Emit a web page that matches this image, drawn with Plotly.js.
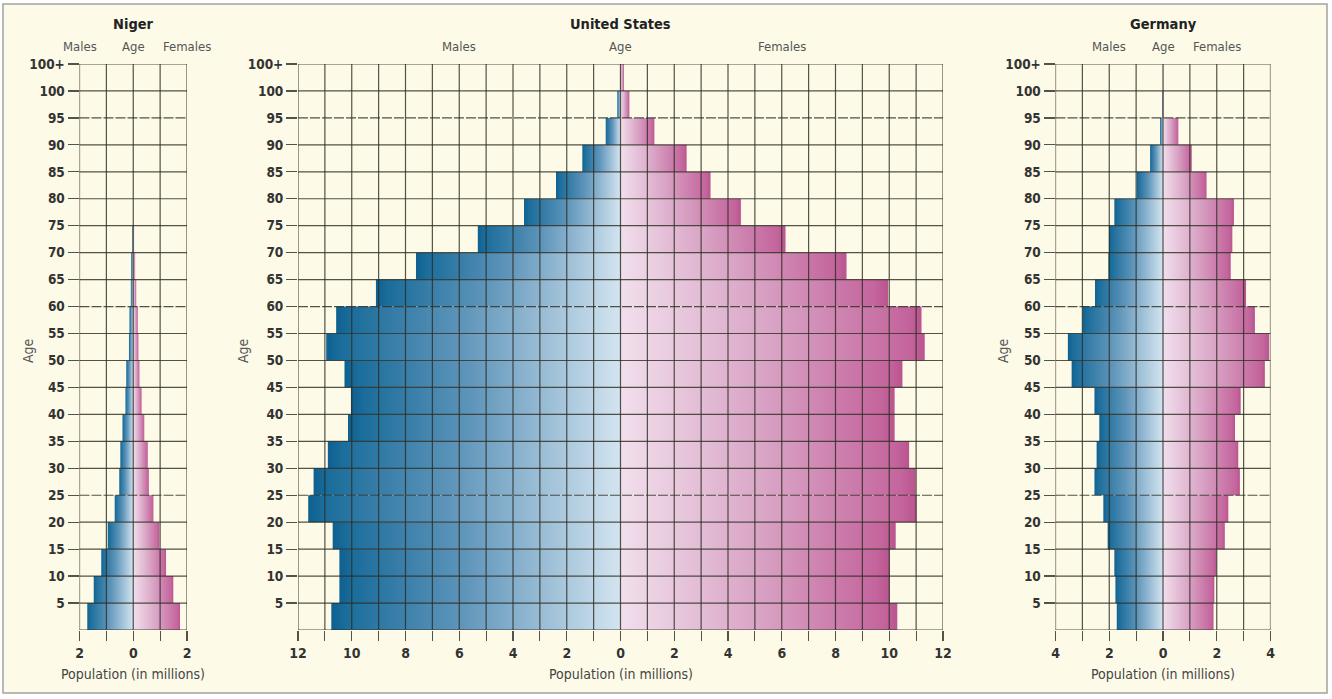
<!DOCTYPE html>
<html><head><meta charset="utf-8">
<script src="https://cdn.plot.ly/plotly-3.0.1.min.js"></script>
<style>html,body{margin:0;padding:0;background:#fff}#chart{width:1332px;height:699px}</style>
</head><body><div id="chart"></div>
<script>
// ---- data (millions), age groups 0-4 ... 100+ ----
const ageStarts = [0,5,10,15,20,25,30,35,40,45,50,55,60,65,70,75,80,85,90,95,100];
const ageTickVals = [5,10,15,20,25,30,35,40,45,50,55,60,65,70,75,80,85,90,95,100,105];
const ageTickText = ['5','10','15','20','25','30','35','40','45','50','55','60','65','70','75','80','85','90','95','100','100+'];

const nigerMales     = [1.71,1.47,1.19,0.95,0.69,0.52,0.48,0.40,0.29,0.26,0.16,0.14,0.09,0.08,0.04,0,0,0,0,0,0];
const nigerFemales   = [1.74,1.49,1.22,0.97,0.75,0.58,0.54,0.41,0.31,0.23,0.19,0.17,0.11,0.07,0.03,0,0,0,0,0,0];
const usMales        = [10.76,10.46,10.46,10.71,11.62,11.42,10.89,10.14,10.03,10.27,10.95,10.58,9.10,7.61,5.31,3.59,2.40,1.42,0.55,0.12,0.02];
const usFemales      = [10.30,10.02,10.02,10.24,11.01,10.98,10.74,10.20,10.20,10.49,11.32,11.20,9.96,8.41,6.14,4.48,3.35,2.46,1.26,0.33,0.13];
const germanyMales   = [1.72,1.77,1.81,2.06,2.22,2.55,2.47,2.37,2.55,3.40,3.54,2.99,2.53,2.03,2.01,1.81,0.98,0.48,0.11,0.02,0];
const germanyFemales = [1.88,1.91,1.99,2.30,2.43,2.86,2.80,2.68,2.89,3.79,3.95,3.42,3.09,2.52,2.58,2.64,1.62,1.07,0.57,0.03,0.01];

const countryNames = ['Niger','United States','Germany'];
const axisMax = [2, 12, 4];
const sideLabelsAt = [2, 6, 2];

// ---- style ----
const W = 1332, H = 699;
const FONT = "'Liberation Sans Narrow','DejaVu Sans Condensed','Arial Narrow',sans-serif";
const gridColor = 'rgba(45,45,35,0.82)';
const cream = '#fdfbe8';
const maleScale = [[0,'#0d6090'],[0.05,'#1b6d9b'],[0.45,'#5f95ba'],[1,'#d3e4f0']];
const femaleScale = [[0,'#f1dfec'],[0.5,'#d9a4c5'],[0.95,'#c4659d'],[1,'#b9548f']];

const xDomains = [[79.5/W,187/W],[298/W,943/W],[1055.5/W,1270.5/W]];
const yDomain = [(H-630)/H,(H-64)/H];

const panels = [
  {males:nigerMales, females:nigerFemales},
  {males:usMales, females:usFemales},
  {males:germanyMales, females:germanyFemales}
];

const traces = [];
const shapes = [];
const annotations = [];
const layout = {
  width:W, height:H,
  margin:{l:0,r:0,t:0,b:0},
  paper_bgcolor:'#ffffff',
  plot_bgcolor:'rgba(0,0,0,0)',
  showlegend:false,
  font:{family:FONT,color:'#333'}
};

const px2paperX = p => p/W;
const py2paperY = p => (H-p)/H;

shapes.push({type:'rect',xref:'paper',yref:'paper',layer:'below',
  x0:3/W,x1:1327/W,y0:(H-693)/H,y1:(H-4)/H,
  fillcolor:cream,line:{color:'#a3a3a0',width:1.5}});

panels.forEach((p,k)=>{
  const xa = k===0?'x':'x'+(k+1);
  const yaL = k===0?'y':'y'+(2*k+1);
  const xKey = k===0?'xaxis':'xaxis'+(k+1);
  const yKeyL = k===0?'yaxis':'yaxis'+(2*k+1);
  const yKeyR = 'yaxis'+(2*k+2);
  const m = axisMax[k];

  ageStarts.forEach((a,i)=>{
    const mv = p.males[i], fv = p.females[i];
    if (mv>0) traces.push({type:'scatter',mode:'lines',xaxis:xa,yaxis:yaL,
      x:[0,-mv,-mv,0,0],y:[a,a,a+5,a+5,a],fill:'toself',
      line:{width:0,color:'rgba(0,0,0,0)'},
      fillgradient:{type:'horizontal',colorscale:maleScale},hoverinfo:'skip'});
    if (fv>0) traces.push({type:'scatter',mode:'lines',xaxis:xa,yaxis:yaL,
      x:[0,fv,fv,0,0],y:[a,a,a+5,a+5,a],fill:'toself',
      line:{width:0,color:'rgba(0,0,0,0)'},
      fillgradient:{type:'horizontal',colorscale:femaleScale},hoverinfo:'skip'});
  });

  const xt = [], xl = [];
  for (let v=-m; v<=m; v++){ xt.push(v); xl.push(v%2===0?String(Math.abs(v)):''); }

  layout[xKey] = {domain:xDomains[k],range:[-m,m],anchor:yaL,
    tickvals:xt,ticktext:xl,ticks:'outside',ticklen:10,tickwidth:1.2,tickcolor:gridColor,
    showgrid:false,zeroline:false,showline:false,fixedrange:true,
    tickfont:{family:FONT,size:14,color:'#333',weight:700}};
  const yCommon = {range:[0,105],tickvals:ageTickVals,ticktext:ageTickText,
    ticks:'outside',ticklen:11,tickwidth:1.2,tickcolor:gridColor,
    showgrid:false,zeroline:false,showline:false,fixedrange:true,
    tickfont:{family:FONT,size:13.5,color:'#333',weight:700}};
  layout[yKeyL] = Object.assign({domain:yDomain,anchor:xa,side:'left'},yCommon);
  layout[yKeyR] = Object.assign({overlaying:yaL,anchor:xa,side:'right'},yCommon);

  // grid drawn above the bars
  for (let v=-m; v<=m; v++){
    shapes.push({type:'line',layer:'above',xref:xa,yref:yaL,x0:v,x1:v,y0:0,y1:105,
      line:{color:gridColor,width:1.2}});
  }
  for (let y=0; y<=105; y+=5){
    const dashed = (y===25||y===60||y===95);
    shapes.push({type:'line',layer:'above',xref:xa+' domain',yref:yaL,x0:0,x1:1,y0:y,y1:y,
      line:{color:gridColor,width:1.2,dash:dashed?'10px,2px':'solid'}});
  }

  // texts
  annotations.push({xref:xa,yref:'paper',x:0,y:py2paperY(24),text:'<b>'+countryNames[k]+'</b>',
    showarrow:false,xanchor:'center',yanchor:'middle',font:{family:FONT,size:14.5,color:'#222'}});
  const s = sideLabelsAt[k];
  [['Males',-s],['Age',0],['Females',s]].forEach(([t,x])=>{
    annotations.push({xref:xa,yref:'paper',x:x,y:py2paperY(47),text:t,showarrow:false,
      xanchor:'center',yanchor:'middle',font:{family:FONT,size:13,color:'#555'}});
  });
  annotations.push({xref:xa,yref:'paper',x:0,y:py2paperY(674),text:'Population (in millions)',
    showarrow:false,xanchor:'center',yanchor:'middle',font:{family:FONT,size:14,color:'#444'}});
});
[28,243,1003].forEach(xp=>{
  annotations.push({xref:'paper',yref:'paper',x:px2paperX(xp),y:py2paperY(351),text:'Age',textangle:-90,
    showarrow:false,xanchor:'center',yanchor:'middle',font:{family:FONT,size:14,color:'#555'}});
});

layout.shapes = shapes;
layout.annotations = annotations;
Plotly.newPlot('chart',traces,layout,{staticPlot:true,displayModeBar:false});
</script></body></html>
